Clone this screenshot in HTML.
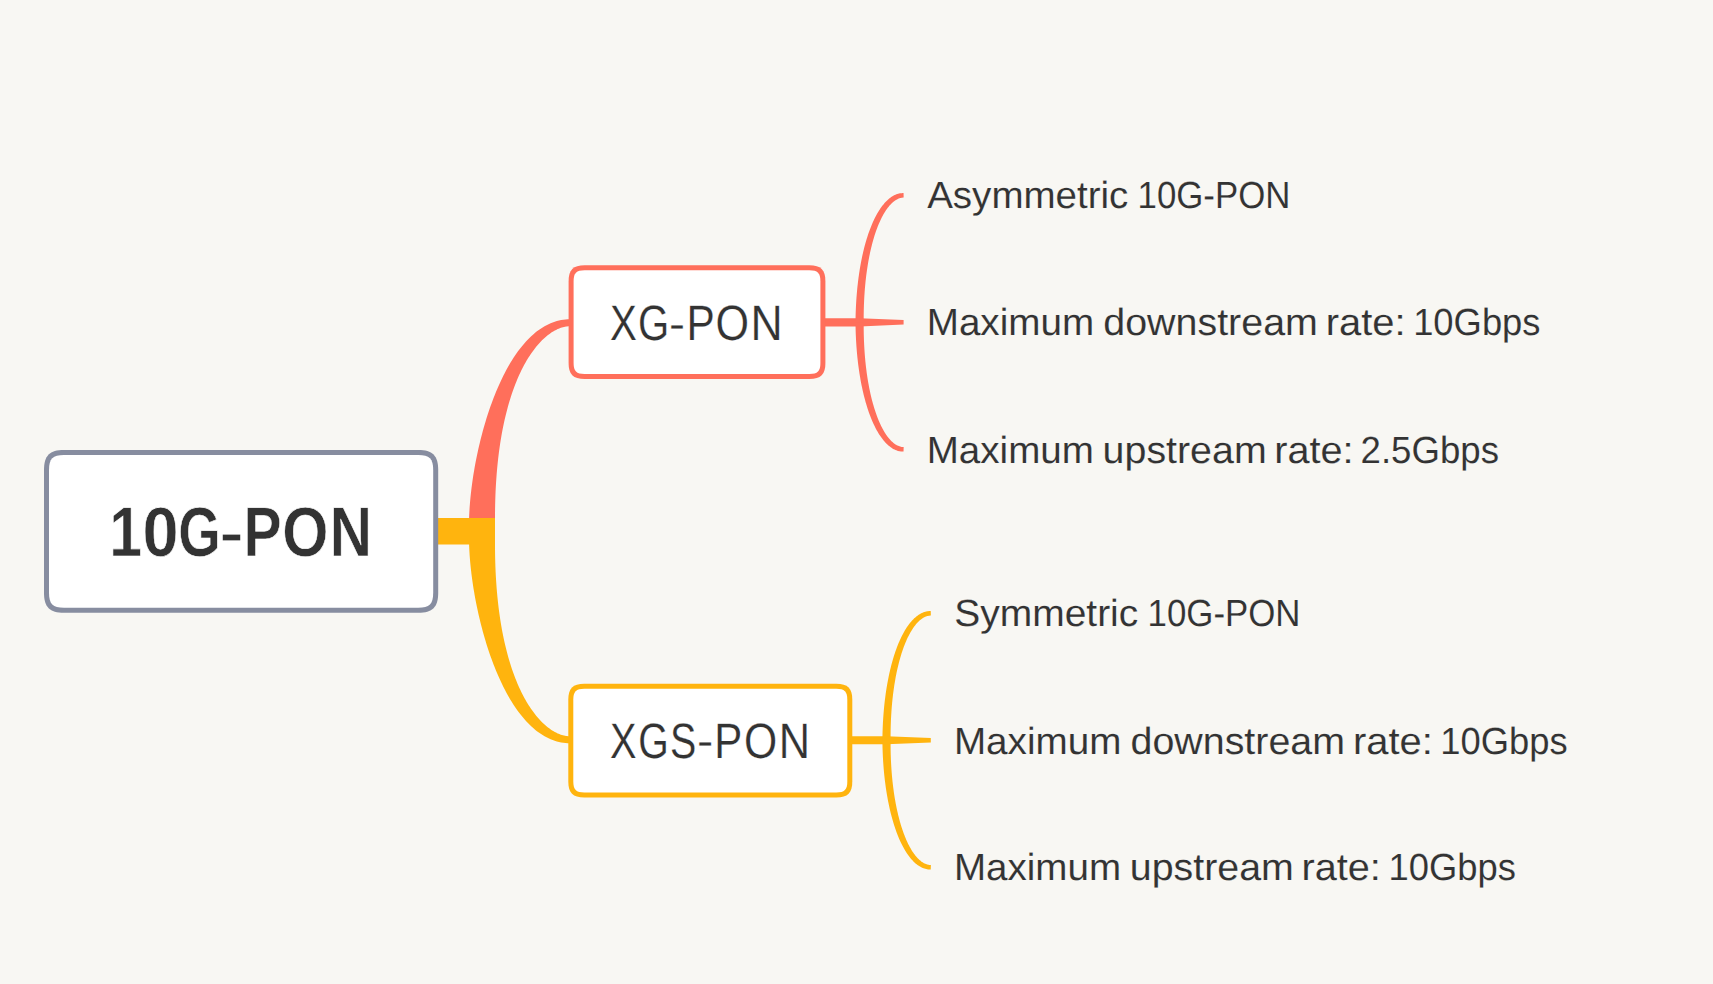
<!DOCTYPE html>
<html><head><meta charset="utf-8"><style>
html,body{margin:0;padding:0;background:#F8F7F3;}
body{width:1713px;height:984px;overflow:hidden;position:relative;}
svg{position:absolute;left:0;top:0;}
text{font-family:"Liberation Sans",sans-serif;fill:#333333;text-rendering:geometricPrecision;}
</style></head><body>
<svg width="1713" height="984" viewBox="0 0 1713 984">
<path fill="#FF6F5B" d="M469.00,531.00 L469.00,525.00 L469.01,522.66 L469.05,520.26 L469.11,517.82 L469.20,515.33 L469.32,512.80 L469.46,510.22 L469.62,507.60 L469.81,504.95 L470.03,502.25 L470.27,499.52 L470.54,496.76 L470.83,493.96 L471.15,491.13 L471.49,488.28 L471.86,485.39 L472.26,482.49 L472.68,479.55 L473.12,476.60 L473.59,473.62 L474.09,470.63 L474.61,467.62 L475.16,464.60 L475.73,461.56 L476.33,458.51 L476.95,455.45 L477.60,452.38 L478.28,449.31 L478.98,446.23 L479.71,443.15 L480.46,440.07 L481.23,436.99 L482.04,433.91 L482.86,430.83 L483.72,427.77 L484.60,424.70 L485.50,421.65 L486.43,418.61 L487.39,415.59 L488.37,412.57 L489.37,409.58 L490.41,406.60 L491.46,403.64 L492.55,400.71 L493.65,397.80 L494.79,394.91 L495.95,392.05 L497.13,389.22 L498.34,386.42 L499.58,383.65 L500.84,380.91 L502.13,378.21 L503.44,375.55 L504.78,372.93 L506.15,370.34 L507.53,367.80 L508.95,365.31 L510.39,362.86 L511.86,360.46 L513.35,358.11 L514.87,355.81 L516.41,353.56 L517.98,351.37 L519.57,349.23 L521.19,347.16 L522.84,345.14 L524.51,343.18 L526.20,341.29 L527.93,339.47 L529.67,337.71 L531.45,336.02 L533.24,334.40 L535.07,332.85 L536.92,331.37 L538.79,329.98 L540.70,328.66 L542.62,327.41 L544.57,326.25 L546.55,325.18 L548.56,324.18 L550.59,323.28 L552.64,322.46 L554.72,321.73 L556.83,321.09 L558.96,320.55 L561.12,320.10 L563.30,319.75 L565.51,319.50 L567.74,319.34 L570.00,319.29 L570.00,326.21 L569.03,326.23 L568.05,326.29 L567.05,326.39 L566.05,326.53 L565.03,326.71 L564.00,326.93 L562.96,327.19 L561.91,327.49 L560.85,327.83 L559.79,328.22 L558.71,328.65 L557.63,329.12 L556.54,329.63 L555.45,330.19 L554.34,330.79 L553.24,331.43 L552.13,332.12 L551.01,332.86 L549.89,333.63 L548.77,334.46 L547.64,335.33 L546.51,336.24 L545.39,337.20 L544.26,338.21 L543.13,339.26 L542.00,340.36 L540.87,341.51 L539.74,342.70 L538.61,343.94 L537.49,345.24 L536.37,346.57 L535.25,347.96 L534.14,349.40 L533.03,350.89 L531.92,352.42 L530.82,354.01 L529.73,355.65 L528.65,357.34 L527.57,359.08 L526.50,360.87 L525.43,362.71 L524.38,364.60 L523.34,366.55 L522.30,368.55 L521.28,370.60 L520.27,372.70 L519.27,374.86 L518.28,377.07 L517.30,379.34 L516.34,381.66 L515.39,384.04 L514.46,386.47 L513.54,388.96 L512.63,391.50 L511.75,394.10 L510.88,396.75 L510.02,399.46 L509.18,402.23 L508.37,405.05 L507.57,407.94 L506.79,410.88 L506.03,413.88 L505.29,416.93 L504.57,420.05 L503.87,423.23 L503.19,426.46 L502.54,429.76 L501.91,433.11 L501.31,436.53 L500.72,440.00 L500.17,443.54 L499.63,447.14 L499.13,450.80 L498.65,454.52 L498.20,458.30 L497.77,462.15 L497.38,466.06 L497.01,470.03 L496.67,474.07 L496.36,478.17 L496.08,482.34 L495.83,486.57 L495.61,490.86 L495.43,495.22 L495.28,499.64 L495.16,504.13 L495.07,508.69 L495.02,513.31 L495.00,518.00 L495.00,531.00Z"/>
<path fill="#FFB40E" d="M469.00,531.50 L469.00,537.50 L469.01,539.84 L469.05,542.24 L469.11,544.68 L469.20,547.17 L469.32,549.70 L469.46,552.28 L469.62,554.90 L469.81,557.55 L470.03,560.25 L470.27,562.98 L470.54,565.74 L470.83,568.54 L471.15,571.37 L471.49,574.22 L471.86,577.11 L472.26,580.01 L472.68,582.95 L473.12,585.90 L473.59,588.88 L474.09,591.87 L474.61,594.88 L475.16,597.90 L475.73,600.94 L476.33,603.99 L476.95,607.05 L477.60,610.12 L478.28,613.19 L478.98,616.27 L479.71,619.35 L480.46,622.43 L481.23,625.51 L482.04,628.59 L482.86,631.67 L483.72,634.73 L484.60,637.80 L485.50,640.85 L486.43,643.89 L487.39,646.91 L488.37,649.93 L489.37,652.92 L490.41,655.90 L491.46,658.86 L492.55,661.79 L493.65,664.70 L494.79,667.59 L495.95,670.45 L497.13,673.28 L498.34,676.08 L499.58,678.85 L500.84,681.59 L502.13,684.29 L503.44,686.95 L504.78,689.57 L506.15,692.16 L507.53,694.70 L508.95,697.19 L510.39,699.64 L511.86,702.04 L513.35,704.39 L514.87,706.69 L516.41,708.94 L517.98,711.13 L519.57,713.27 L521.19,715.34 L522.84,717.36 L524.51,719.32 L526.20,721.21 L527.93,723.03 L529.67,724.79 L531.45,726.48 L533.24,728.10 L535.07,729.65 L536.92,731.13 L538.79,732.52 L540.70,733.84 L542.62,735.09 L544.57,736.25 L546.55,737.32 L548.56,738.32 L550.59,739.22 L552.64,740.04 L554.72,740.77 L556.83,741.41 L558.96,741.95 L561.12,742.40 L563.30,742.75 L565.51,743.00 L567.74,743.16 L570.00,743.21 L570.00,736.29 L569.03,736.27 L568.05,736.21 L567.05,736.11 L566.05,735.97 L565.03,735.79 L564.00,735.57 L562.96,735.31 L561.91,735.01 L560.85,734.67 L559.79,734.28 L558.71,733.85 L557.63,733.38 L556.54,732.87 L555.45,732.31 L554.34,731.71 L553.24,731.07 L552.13,730.38 L551.01,729.64 L549.89,728.87 L548.77,728.04 L547.64,727.17 L546.51,726.26 L545.39,725.30 L544.26,724.29 L543.13,723.24 L542.00,722.14 L540.87,720.99 L539.74,719.80 L538.61,718.56 L537.49,717.26 L536.37,715.93 L535.25,714.54 L534.14,713.10 L533.03,711.61 L531.92,710.08 L530.82,708.49 L529.73,706.85 L528.65,705.16 L527.57,703.42 L526.50,701.63 L525.43,699.79 L524.38,697.90 L523.34,695.95 L522.30,693.95 L521.28,691.90 L520.27,689.80 L519.27,687.64 L518.28,685.43 L517.30,683.16 L516.34,680.84 L515.39,678.46 L514.46,676.03 L513.54,673.54 L512.63,671.00 L511.75,668.40 L510.88,665.75 L510.02,663.04 L509.18,660.27 L508.37,657.45 L507.57,654.56 L506.79,651.62 L506.03,648.62 L505.29,645.57 L504.57,642.45 L503.87,639.27 L503.19,636.04 L502.54,632.74 L501.91,629.39 L501.31,625.97 L500.72,622.50 L500.17,618.96 L499.63,615.36 L499.13,611.70 L498.65,607.98 L498.20,604.20 L497.77,600.35 L497.38,596.44 L497.01,592.47 L496.67,588.43 L496.36,584.33 L496.08,580.16 L495.83,575.93 L495.61,571.64 L495.43,567.28 L495.28,562.86 L495.16,558.37 L495.07,553.81 L495.02,549.19 L495.00,544.50 L495.00,531.50Z"/>
<path fill="#FFB40E" d="M436,518 L495,518 L495,544.5 L436,544.5 Z"/>
<path fill="#FF6F5B" d="M823.0,318.20 L860.6,318.20 L860.6,326.40 L823.0,326.40 Z"/>
<path fill="#FF6F5B" d="M863.70,322.31 L863.69,319.85 L863.69,317.42 L863.70,315.01 L863.74,312.61 L863.78,310.22 L863.84,307.85 L863.92,305.50 L864.00,303.17 L864.11,300.86 L864.22,298.56 L864.35,296.28 L864.50,294.02 L864.65,291.77 L864.82,289.55 L865.01,287.34 L865.20,285.16 L865.41,282.99 L865.63,280.84 L865.87,278.72 L866.11,276.61 L866.37,274.53 L866.64,272.47 L866.92,270.43 L867.22,268.41 L867.53,266.41 L867.84,264.43 L868.17,262.48 L868.51,260.55 L868.87,258.64 L869.23,256.76 L869.60,254.90 L869.99,253.07 L870.38,251.26 L870.79,249.47 L871.20,247.71 L871.63,245.98 L872.06,244.27 L872.51,242.58 L872.96,240.92 L873.43,239.29 L873.90,237.69 L874.38,236.11 L874.87,234.56 L875.37,233.04 L875.88,231.55 L876.40,230.08 L876.92,228.64 L877.46,227.24 L878.00,225.86 L878.55,224.51 L879.10,223.19 L879.67,221.90 L880.24,220.64 L880.82,219.41 L881.40,218.22 L881.99,217.05 L882.59,215.92 L883.20,214.82 L883.81,213.75 L884.42,212.71 L885.04,211.71 L885.67,210.74 L886.30,209.80 L886.93,208.89 L887.57,208.02 L888.22,207.19 L888.86,206.39 L889.52,205.62 L890.17,204.89 L890.83,204.19 L891.49,203.53 L892.15,202.90 L892.81,202.31 L893.48,201.75 L894.14,201.23 L894.81,200.74 L895.48,200.29 L896.15,199.88 L896.82,199.50 L897.49,199.15 L898.16,198.84 L898.83,198.56 L899.51,198.32 L900.18,198.11 L900.86,197.94 L901.54,197.80 L902.22,197.69 L902.91,197.62 L903.66,197.58 L903.54,193.08 L902.68,193.08 L901.77,193.13 L900.85,193.22 L899.94,193.36 L899.04,193.55 L898.13,193.77 L897.24,194.05 L896.35,194.36 L895.47,194.72 L894.60,195.11 L893.73,195.55 L892.87,196.03 L892.02,196.54 L891.18,197.10 L890.35,197.69 L889.53,198.32 L888.71,198.99 L887.91,199.69 L887.11,200.43 L886.32,201.20 L885.54,202.01 L884.77,202.85 L884.00,203.72 L883.25,204.63 L882.50,205.58 L881.76,206.55 L881.03,207.56 L880.31,208.60 L879.59,209.67 L878.89,210.77 L878.19,211.91 L877.50,213.07 L876.82,214.27 L876.15,215.50 L875.49,216.76 L874.84,218.04 L874.19,219.36 L873.55,220.71 L872.93,222.08 L872.31,223.49 L871.70,224.92 L871.10,226.39 L870.51,227.88 L869.93,229.39 L869.36,230.94 L868.80,232.51 L868.24,234.12 L867.70,235.74 L867.17,237.40 L866.65,239.08 L866.14,240.78 L865.63,242.52 L865.14,244.27 L864.66,246.06 L864.19,247.87 L863.73,249.70 L863.28,251.56 L862.85,253.44 L862.42,255.34 L862.01,257.27 L861.60,259.23 L861.21,261.20 L860.83,263.20 L860.46,265.22 L860.11,267.27 L859.76,269.33 L859.43,271.42 L859.11,273.53 L858.81,275.66 L858.51,277.81 L858.23,279.98 L857.96,282.17 L857.71,284.39 L857.46,286.62 L857.23,288.87 L857.02,291.14 L856.82,293.43 L856.63,295.74 L856.45,298.07 L856.29,300.41 L856.15,302.78 L856.01,305.16 L855.90,307.56 L855.79,309.97 L855.70,312.41 L855.63,314.86 L855.57,317.32 L855.53,319.80 L855.50,322.29Z"/>
<path fill="#FF6F5B" d="M859.60,318.20 L903.60,320.05 L903.60,324.55 L859.60,326.40 Z"/>
<path fill="#FF6F5B" d="M855.50,322.31 L855.53,324.80 L855.57,327.28 L855.63,329.75 L855.70,332.20 L855.79,334.63 L855.90,337.05 L856.01,339.45 L856.15,341.83 L856.29,344.20 L856.45,346.55 L856.63,348.87 L856.82,351.19 L857.02,353.48 L857.23,355.75 L857.46,358.00 L857.71,360.24 L857.96,362.45 L858.23,364.64 L858.51,366.82 L858.81,368.97 L859.11,371.10 L859.43,373.21 L859.76,375.30 L860.11,377.37 L860.46,379.41 L860.83,381.43 L861.21,383.43 L861.60,385.41 L862.01,387.37 L862.42,389.30 L862.85,391.20 L863.28,393.09 L863.73,394.95 L864.19,396.78 L864.66,398.59 L865.14,400.37 L865.63,402.13 L866.14,403.87 L866.65,405.57 L867.17,407.26 L867.70,408.91 L868.24,410.54 L868.80,412.14 L869.36,413.72 L869.93,415.26 L870.51,416.78 L871.10,418.27 L871.70,419.74 L872.31,421.17 L872.93,422.58 L873.55,423.95 L874.19,425.30 L874.84,426.62 L875.49,427.91 L876.15,429.17 L876.82,430.40 L877.50,431.59 L878.19,432.76 L878.89,433.90 L879.59,435.00 L880.31,436.07 L881.03,437.11 L881.76,438.12 L882.50,439.10 L883.25,440.04 L884.00,440.95 L884.76,441.82 L885.54,442.67 L886.32,443.47 L887.11,444.25 L887.91,444.99 L888.71,445.69 L889.53,446.36 L890.35,446.99 L891.18,447.58 L892.02,448.13 L892.87,448.65 L893.73,449.13 L894.60,449.57 L895.47,449.96 L896.35,450.32 L897.24,450.63 L898.13,450.90 L899.03,451.13 L899.94,451.32 L900.85,451.46 L901.77,451.55 L902.68,451.60 L903.54,451.60 L903.66,447.10 L902.91,447.06 L902.22,446.99 L901.54,446.88 L900.86,446.74 L900.18,446.57 L899.51,446.36 L898.84,446.12 L898.16,445.84 L897.49,445.53 L896.82,445.18 L896.15,444.80 L895.48,444.38 L894.81,443.93 L894.14,443.45 L893.48,442.93 L892.81,442.37 L892.15,441.78 L891.49,441.15 L890.83,440.49 L890.17,439.79 L889.52,439.06 L888.87,438.29 L888.22,437.49 L887.57,436.65 L886.93,435.78 L886.30,434.88 L885.67,433.94 L885.04,432.97 L884.42,431.96 L883.81,430.92 L883.20,429.85 L882.59,428.75 L881.99,427.62 L881.40,426.45 L880.82,425.25 L880.24,424.02 L879.67,422.76 L879.10,421.47 L878.55,420.15 L878.00,418.80 L877.46,417.42 L876.92,416.02 L876.40,414.58 L875.88,413.11 L875.37,411.62 L874.87,410.09 L874.38,408.54 L873.90,406.96 L873.43,405.36 L872.96,403.73 L872.51,402.07 L872.06,400.38 L871.63,398.67 L871.20,396.94 L870.79,395.18 L870.38,393.39 L869.99,391.58 L869.60,389.74 L869.23,387.88 L868.87,386.00 L868.51,384.09 L868.17,382.16 L867.84,380.20 L867.53,378.23 L867.22,376.23 L866.92,374.21 L866.64,372.17 L866.37,370.10 L866.11,368.02 L865.87,365.91 L865.63,363.78 L865.41,361.63 L865.20,359.47 L865.01,357.28 L864.82,355.07 L864.65,352.85 L864.50,350.60 L864.35,348.34 L864.22,346.06 L864.11,343.76 L864.00,341.44 L863.92,339.11 L863.84,336.75 L863.78,334.39 L863.74,332.00 L863.70,329.60 L863.69,327.18 L863.69,324.75 L863.70,322.29Z"/>
<path fill="#FFB40E" d="M850.0,736.15 L887.5,736.15 L887.5,744.35 L850.0,744.35 Z"/>
<path fill="#FFB40E" d="M890.60,740.26 L890.59,737.80 L890.59,735.37 L890.61,732.96 L890.64,730.56 L890.68,728.17 L890.74,725.81 L890.82,723.46 L890.91,721.12 L891.01,718.81 L891.13,716.51 L891.26,714.23 L891.40,711.97 L891.56,709.72 L891.73,707.50 L891.92,705.29 L892.11,703.11 L892.32,700.94 L892.55,698.80 L892.78,696.67 L893.03,694.57 L893.29,692.48 L893.56,690.42 L893.85,688.38 L894.15,686.36 L894.46,684.36 L894.78,682.39 L895.11,680.43 L895.45,678.50 L895.80,676.60 L896.17,674.72 L896.55,672.86 L896.93,671.02 L897.33,669.21 L897.74,667.43 L898.16,665.67 L898.58,663.93 L899.02,662.22 L899.47,660.54 L899.93,658.88 L900.40,657.25 L900.87,655.65 L901.36,654.07 L901.85,652.52 L902.36,651.00 L902.87,649.50 L903.39,648.04 L903.92,646.60 L904.46,645.19 L905.00,643.82 L905.55,642.47 L906.12,641.15 L906.68,639.86 L907.26,638.60 L907.84,637.37 L908.43,636.17 L909.03,635.01 L909.63,633.88 L910.24,632.77 L910.85,631.70 L911.47,630.67 L912.09,629.66 L912.72,628.69 L913.36,627.75 L914.00,626.85 L914.64,625.98 L915.29,625.14 L915.94,624.34 L916.60,623.58 L917.26,622.84 L917.92,622.15 L918.58,621.48 L919.25,620.86 L919.92,620.26 L920.59,619.71 L921.26,619.19 L921.94,618.70 L922.61,618.25 L923.28,617.83 L923.96,617.45 L924.64,617.10 L925.31,616.79 L925.99,616.52 L926.67,616.27 L927.35,616.06 L928.04,615.89 L928.72,615.75 L929.41,615.64 L930.10,615.57 L930.86,615.53 L930.74,611.03 L929.88,611.03 L928.96,611.08 L928.04,611.17 L927.12,611.31 L926.21,611.50 L925.31,611.72 L924.41,611.99 L923.51,612.31 L922.63,612.66 L921.75,613.06 L920.88,613.50 L920.02,613.97 L919.16,614.49 L918.32,615.04 L917.48,615.64 L916.65,616.27 L915.83,616.93 L915.02,617.63 L914.21,618.37 L913.42,619.14 L912.63,619.95 L911.86,620.79 L911.09,621.67 L910.33,622.58 L909.57,623.52 L908.83,624.49 L908.10,625.50 L907.37,626.54 L906.65,627.61 L905.94,628.72 L905.24,629.85 L904.55,631.02 L903.86,632.21 L903.19,633.44 L902.52,634.70 L901.86,635.99 L901.21,637.30 L900.57,638.65 L899.94,640.03 L899.32,641.43 L898.71,642.87 L898.10,644.33 L897.51,645.82 L896.92,647.34 L896.35,648.88 L895.78,650.46 L895.23,652.06 L894.68,653.69 L894.14,655.34 L893.62,657.02 L893.10,658.73 L892.60,660.46 L892.10,662.22 L891.62,664.00 L891.15,665.81 L890.68,667.64 L890.23,669.50 L889.79,671.38 L889.36,673.29 L888.95,675.22 L888.54,677.17 L888.15,679.15 L887.77,681.15 L887.39,683.17 L887.04,685.21 L886.69,687.28 L886.36,689.37 L886.03,691.48 L885.73,693.61 L885.43,695.76 L885.15,697.93 L884.88,700.12 L884.62,702.33 L884.37,704.57 L884.14,706.82 L883.93,709.09 L883.72,711.38 L883.53,713.69 L883.36,716.02 L883.20,718.36 L883.05,720.73 L882.92,723.11 L882.80,725.51 L882.69,727.92 L882.61,730.36 L882.53,732.81 L882.47,735.27 L882.43,737.75 L882.40,740.24Z"/>
<path fill="#FFB40E" d="M886.50,736.15 L930.80,738.00 L930.80,742.50 L886.50,744.35 Z"/>
<path fill="#FFB40E" d="M882.40,740.26 L882.43,742.75 L882.47,745.23 L882.53,747.70 L882.61,750.15 L882.69,752.58 L882.80,755.00 L882.92,757.40 L883.05,759.78 L883.20,762.15 L883.36,764.50 L883.53,766.83 L883.72,769.14 L883.93,771.43 L884.14,773.70 L884.37,775.96 L884.62,778.19 L884.88,780.40 L885.15,782.60 L885.43,784.77 L885.73,786.92 L886.03,789.05 L886.36,791.16 L886.69,793.25 L887.04,795.32 L887.39,797.37 L887.77,799.39 L888.15,801.39 L888.54,803.37 L888.95,805.32 L889.36,807.25 L889.79,809.16 L890.23,811.04 L890.68,812.90 L891.15,814.73 L891.62,816.54 L892.10,818.33 L892.60,820.09 L893.10,821.82 L893.62,823.53 L894.14,825.21 L894.68,826.87 L895.23,828.50 L895.78,830.10 L896.35,831.67 L896.92,833.22 L897.51,834.74 L898.10,836.23 L898.70,837.69 L899.32,839.13 L899.94,840.53 L900.57,841.91 L901.21,843.26 L901.86,844.58 L902.52,845.87 L903.19,847.12 L903.86,848.35 L904.55,849.55 L905.24,850.72 L905.94,851.85 L906.65,852.96 L907.37,854.03 L908.10,855.07 L908.83,856.08 L909.57,857.05 L910.33,858.00 L911.09,858.91 L911.86,859.78 L912.63,860.62 L913.42,861.43 L914.21,862.20 L915.02,862.94 L915.83,863.64 L916.65,864.31 L917.48,864.94 L918.32,865.53 L919.16,866.09 L920.02,866.60 L920.88,867.08 L921.75,867.52 L922.63,867.92 L923.51,868.27 L924.41,868.58 L925.31,868.86 L926.21,869.08 L927.12,869.27 L928.04,869.41 L928.96,869.50 L929.88,869.55 L930.74,869.55 L930.86,865.05 L930.10,865.01 L929.41,864.94 L928.72,864.83 L928.04,864.69 L927.35,864.52 L926.67,864.31 L925.99,864.06 L925.31,863.79 L924.64,863.47 L923.96,863.13 L923.28,862.75 L922.61,862.33 L921.94,861.88 L921.26,861.39 L920.59,860.87 L919.92,860.31 L919.25,859.72 L918.59,859.09 L917.92,858.43 L917.26,857.73 L916.60,857.00 L915.95,856.23 L915.29,855.43 L914.64,854.59 L914.00,853.72 L913.36,852.82 L912.73,851.88 L912.09,850.91 L911.47,849.90 L910.85,848.87 L910.24,847.80 L909.63,846.69 L909.03,845.56 L908.43,844.39 L907.84,843.19 L907.26,841.97 L906.68,840.71 L906.12,839.42 L905.56,838.10 L905.00,836.75 L904.46,835.37 L903.92,833.96 L903.39,832.52 L902.87,831.05 L902.36,829.56 L901.85,828.04 L901.36,826.49 L900.87,824.91 L900.40,823.30 L899.93,821.67 L899.47,820.01 L899.02,818.33 L898.59,816.62 L898.16,814.88 L897.74,813.12 L897.33,811.33 L896.93,809.52 L896.55,807.69 L896.17,805.83 L895.80,803.94 L895.45,802.03 L895.11,800.10 L894.78,798.15 L894.46,796.17 L894.15,794.18 L893.85,792.15 L893.56,790.11 L893.29,788.05 L893.03,785.96 L892.78,783.86 L892.55,781.73 L892.32,779.58 L892.11,777.41 L891.92,775.23 L891.73,773.02 L891.56,770.80 L891.40,768.55 L891.26,766.29 L891.13,764.01 L891.01,761.71 L890.91,759.39 L890.82,757.06 L890.74,754.70 L890.68,752.34 L890.64,749.95 L890.61,747.55 L890.59,745.13 L890.59,742.70 L890.60,740.24Z"/>
<path fill="#878DA0" d="M64.00,450.00 L418.20,450.00 C432.60,450.00 438.20,455.60 438.20,470.00 L438.20,592.80 C438.20,607.20 432.60,612.80 418.20,612.80 L64.00,612.80 C49.60,612.80 44.00,607.20 44.00,592.80 L44.00,470.00 C44.00,455.60 49.60,450.00 64.00,450.00 Z"/>
<path fill="#ffffff" d="M64.00,455.00 L418.20,455.00 C429.45,455.00 433.20,458.75 433.20,470.00 L433.20,592.80 C433.20,604.05 429.45,607.80 418.20,607.80 L64.00,607.80 C52.75,607.80 49.00,604.05 49.00,592.80 L49.00,470.00 C49.00,458.75 52.75,455.00 64.00,455.00 Z"/>
<path fill="#FF6F5B" d="M584.60,265.30 L809.40,265.30 C820.92,265.30 825.40,269.78 825.40,281.30 L825.40,363.00 C825.40,374.52 820.92,379.00 809.40,379.00 L584.60,379.00 C573.08,379.00 568.60,374.52 568.60,363.00 L568.60,281.30 C568.60,269.78 573.08,265.30 584.60,265.30 Z"/>
<path fill="#ffffff" d="M584.60,270.30 L809.40,270.30 C817.65,270.30 820.40,273.05 820.40,281.30 L820.40,363.00 C820.40,371.25 817.65,374.00 809.40,374.00 L584.60,374.00 C576.35,374.00 573.60,371.25 573.60,363.00 L573.60,281.30 C573.60,273.05 576.35,270.30 584.60,270.30 Z"/>
<path fill="#FFB40E" d="M584.30,683.80 L836.30,683.80 C847.82,683.80 852.30,688.28 852.30,699.80 L852.30,781.40 C852.30,792.92 847.82,797.40 836.30,797.40 L584.30,797.40 C572.78,797.40 568.30,792.92 568.30,781.40 L568.30,699.80 C568.30,688.28 572.78,683.80 584.30,683.80 Z"/>
<path fill="#ffffff" d="M584.30,688.80 L836.30,688.80 C844.55,688.80 847.30,691.55 847.30,699.80 L847.30,781.40 C847.30,789.65 844.55,792.40 836.30,792.40 L584.30,792.40 C576.05,792.40 573.30,789.65 573.30,781.40 L573.30,699.80 C573.30,691.55 576.05,688.80 584.30,688.80 Z"/>
<text transform="matrix(0.8406 0 0 1.0000 109.21 556.38)" font-size="70.07" font-weight="bold" stroke="#ffffff" stroke-width="0.6" vector-effect="non-scaling-stroke">1</text>
<text transform="matrix(0.9257 0 0 1.0000 142.61 556.30)" font-size="70.07" font-weight="bold" stroke="#ffffff" stroke-width="0.6" vector-effect="non-scaling-stroke">0</text>
<text transform="matrix(0.7786 0 0 1.0000 178.17 556.30)" font-size="70.07" font-weight="bold" stroke="#ffffff" stroke-width="0.6" vector-effect="non-scaling-stroke">G</text>
<text transform="matrix(1.0319 0 0 0.8000 219.60 551.90)" font-size="70.07" font-weight="bold" stroke="#ffffff" stroke-width="0.6" vector-effect="non-scaling-stroke">-</text>
<text transform="matrix(0.8154 0 0 1.0000 243.62 556.38)" font-size="70.07" font-weight="bold" stroke="#ffffff" stroke-width="0.6" vector-effect="non-scaling-stroke">P</text>
<text transform="matrix(0.8478 0 0 1.0000 282.25 556.30)" font-size="70.07" font-weight="bold" stroke="#ffffff" stroke-width="0.6" vector-effect="non-scaling-stroke">O</text>
<text transform="matrix(0.8345 0 0 1.0000 329.73 556.38)" font-size="70.07" font-weight="bold" stroke="#ffffff" stroke-width="0.6" vector-effect="non-scaling-stroke">N</text>
<text transform="matrix(0.8098 0 0 1.0000 609.99 339.93)" font-size="49.69" stroke="#ffffff" stroke-width="0.2" vector-effect="non-scaling-stroke">X</text>
<text transform="matrix(0.8062 0 0 1.0000 637.88 339.90)" font-size="49.69" stroke="#ffffff" stroke-width="0.2" vector-effect="non-scaling-stroke">G</text>
<text transform="matrix(0.9667 0 0 0.8276 669.12 337.61)" font-size="49.69" stroke="#ffffff" stroke-width="0.2" vector-effect="non-scaling-stroke">-</text>
<text transform="matrix(0.8533 0 0 1.0000 686.48 339.93)" font-size="49.69" stroke="#ffffff" stroke-width="0.2" vector-effect="non-scaling-stroke">P</text>
<text transform="matrix(0.8684 0 0 1.0000 715.53 339.90)" font-size="49.69" stroke="#ffffff" stroke-width="0.2" vector-effect="non-scaling-stroke">O</text>
<text transform="matrix(0.8977 0 0 1.0000 750.50 339.93)" font-size="49.69" stroke="#ffffff" stroke-width="0.2" vector-effect="non-scaling-stroke">N</text>
<text transform="matrix(0.8000 0 0 1.0000 610.00 757.83)" font-size="49.69" stroke="#ffffff" stroke-width="0.2" vector-effect="non-scaling-stroke">X</text>
<text transform="matrix(0.7876 0 0 1.0000 638.23 757.80)" font-size="49.69" stroke="#ffffff" stroke-width="0.2" vector-effect="non-scaling-stroke">G</text>
<text transform="matrix(0.7930 0 0 1.0000 669.92 757.80)" font-size="49.69" stroke="#ffffff" stroke-width="0.2" vector-effect="non-scaling-stroke">S</text>
<text transform="matrix(0.9833 0 0 0.8276 696.89 755.31)" font-size="49.69" stroke="#ffffff" stroke-width="0.2" vector-effect="non-scaling-stroke">-</text>
<text transform="matrix(0.8457 0 0 1.0000 714.31 757.83)" font-size="49.69" stroke="#ffffff" stroke-width="0.2" vector-effect="non-scaling-stroke">P</text>
<text transform="matrix(0.8595 0 0 1.0000 743.95 757.80)" font-size="49.69" stroke="#ffffff" stroke-width="0.2" vector-effect="non-scaling-stroke">O</text>
<text transform="matrix(0.8724 0 0 1.0000 778.80 757.83)" font-size="49.69" stroke="#ffffff" stroke-width="0.2" vector-effect="non-scaling-stroke">N</text>
<text transform="matrix(1.0186 0 0 1.0000 927.15 207.75)" font-size="37.85" stroke="#F8F7F3" stroke-width="0.1" vector-effect="non-scaling-stroke">Asymmetric</text>
<text transform="matrix(0.9199 0 0 1.0000 1137.56 207.75)" font-size="37.85" stroke="#F8F7F3" stroke-width="0.1" vector-effect="non-scaling-stroke">10G-PON</text>
<text transform="matrix(1.0212 0 0 1.0000 926.71 334.85)" font-size="37.85" stroke="#F8F7F3" stroke-width="0.1" vector-effect="non-scaling-stroke">Maximum</text>
<text transform="matrix(1.0412 0 0 1.0000 1103.31 334.85)" font-size="37.85" stroke="#F8F7F3" stroke-width="0.1" vector-effect="non-scaling-stroke">downstream</text>
<text transform="matrix(1.0557 0 0 1.0000 1325.73 334.85)" font-size="37.85" stroke="#F8F7F3" stroke-width="0.1" vector-effect="non-scaling-stroke">rate:</text>
<text transform="matrix(0.9614 0 0 1.0000 1413.14 334.85)" font-size="37.85" stroke="#F8F7F3" stroke-width="0.1" vector-effect="non-scaling-stroke">10Gbps</text>
<text transform="matrix(1.0199 0 0 1.0000 926.71 462.55)" font-size="37.85" stroke="#F8F7F3" stroke-width="0.1" vector-effect="non-scaling-stroke">Maximum</text>
<text transform="matrix(1.0405 0 0 1.0000 1102.60 462.55)" font-size="37.85" stroke="#F8F7F3" stroke-width="0.1" vector-effect="non-scaling-stroke">upstream</text>
<text transform="matrix(1.0485 0 0 1.0000 1274.25 462.55)" font-size="37.85" stroke="#F8F7F3" stroke-width="0.1" vector-effect="non-scaling-stroke">rate:</text>
<text transform="matrix(0.9676 0 0 1.0000 1360.56 462.55)" font-size="37.85" stroke="#F8F7F3" stroke-width="0.1" vector-effect="non-scaling-stroke">2.5Gbps</text>
<text transform="matrix(1.0300 0 0 1.0000 954.27 625.75)" font-size="37.85" stroke="#F8F7F3" stroke-width="0.1" vector-effect="non-scaling-stroke">Symmetric</text>
<text transform="matrix(0.9212 0 0 1.0000 1147.55 625.75)" font-size="37.85" stroke="#F8F7F3" stroke-width="0.1" vector-effect="non-scaling-stroke">10G-PON</text>
<text transform="matrix(1.0212 0 0 1.0000 953.91 753.75)" font-size="37.85" stroke="#F8F7F3" stroke-width="0.1" vector-effect="non-scaling-stroke">Maximum</text>
<text transform="matrix(1.0412 0 0 1.0000 1130.51 753.75)" font-size="37.85" stroke="#F8F7F3" stroke-width="0.1" vector-effect="non-scaling-stroke">downstream</text>
<text transform="matrix(1.0557 0 0 1.0000 1352.93 753.75)" font-size="37.85" stroke="#F8F7F3" stroke-width="0.1" vector-effect="non-scaling-stroke">rate:</text>
<text transform="matrix(0.9614 0 0 1.0000 1440.34 753.75)" font-size="37.85" stroke="#F8F7F3" stroke-width="0.1" vector-effect="non-scaling-stroke">10Gbps</text>
<text transform="matrix(1.0199 0 0 1.0000 953.91 880.35)" font-size="37.85" stroke="#F8F7F3" stroke-width="0.1" vector-effect="non-scaling-stroke">Maximum</text>
<text transform="matrix(1.0405 0 0 1.0000 1129.80 880.35)" font-size="37.85" stroke="#F8F7F3" stroke-width="0.1" vector-effect="non-scaling-stroke">upstream</text>
<text transform="matrix(1.0485 0 0 1.0000 1301.45 880.35)" font-size="37.85" stroke="#F8F7F3" stroke-width="0.1" vector-effect="non-scaling-stroke">rate:</text>
<text transform="matrix(0.9614 0 0 1.0000 1388.54 880.35)" font-size="37.85" stroke="#F8F7F3" stroke-width="0.1" vector-effect="non-scaling-stroke">10Gbps</text>
</svg>
</body></html>
